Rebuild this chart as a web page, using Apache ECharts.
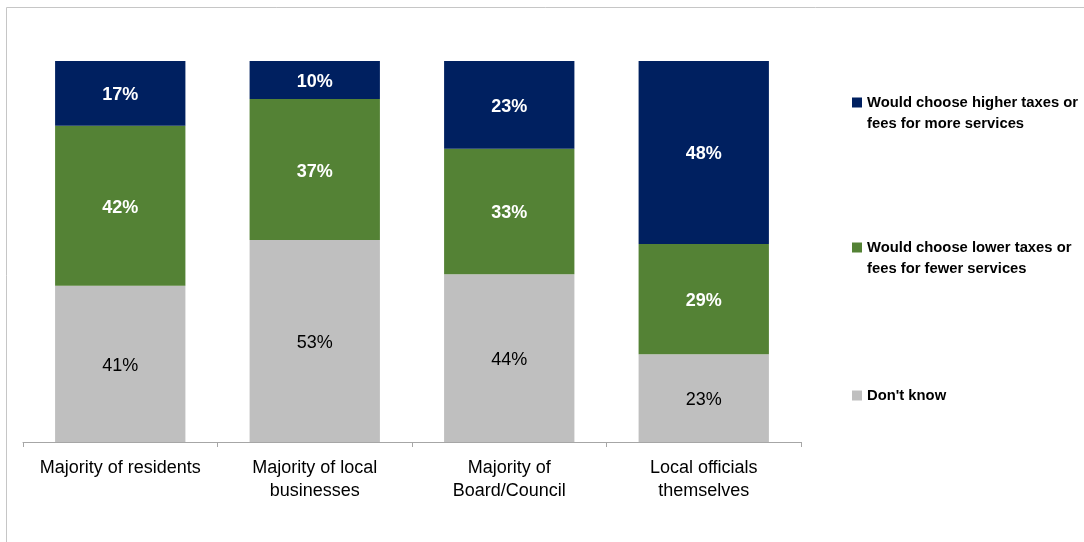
<!DOCTYPE html>
<html>
<head>
<meta charset="utf-8">
<script src="https://cdn.jsdelivr.net/npm/echarts@6/dist/echarts.min.js"></script>
<style>
  html, body { margin: 0; padding: 0; background: #fff; }
  #chart { width: 1084px; height: 542px; }
</style>
</head>
<body>
<div id="chart"></div>
<script>
// Survey groups along the x axis
const categories = [
  'Majority of residents',
  'Majority of local\nbusinesses',
  'Majority of\nBoard/Council',
  'Local officials\nthemselves'
];
// Shares (%) per answer, one value per group
const higherTaxes = [17, 10, 23, 48];
const lowerTaxes = [42, 37, 33, 29];
const dontKnow = [41, 53, 44, 23];

const seriesNames = [
  'Would choose higher taxes or\nfees for more services',
  'Would choose lower taxes or\nfees for fewer services',
  "Don't know"
];

const FONT = '"Liberation Sans", Arial, sans-serif';
const chart = echarts.init(document.getElementById('chart'));

function barSeries(name, data, color, labelColor, bold) {
  return {
    name: name,
    type: 'bar',
    stack: 'total',
    data: data,
    barWidth: '67%',
    itemStyle: { color: color },
    label: {
      show: true,
      position: 'inside',
      offset: [0, 2],
      formatter: '{c}%',
      color: labelColor,
      fontFamily: FONT,
      fontSize: 18,
      fontWeight: bold ? 'bold' : 'normal'
    },
    emphasis: { disabled: true }
  };
}

// One legend block per answer, stacked down the right-hand side.
// A blank leading line keeps the marker level with the first text line.
function legendBlock(name, top, twoLines) {
  return {
    orient: 'vertical',
    left: 847,
    top: top,
    itemWidth: 10,
    itemHeight: 10,
    icon: 'rect',
    selectedMode: false,
    formatter: twoLines ? (n => '\u00a0\n' + n) : (n => n),
    textStyle: {
      fontFamily: FONT,
      fontSize: 14.8,
      fontWeight: 'bold',
      color: '#000',
      lineHeight: 21
    },
    data: [name]
  };
}

chart.setOption({
  animation: false,
  graphic: [{
    type: 'rect',
    shape: { x: 6.5, y: 7.5, width: 1200, height: 700 },
    style: { fill: 'none', stroke: '#c6c6c6', lineWidth: 1 },
    silent: true
  }],
  grid: { left: 23, right: 283, top: 61, bottom: 100, containLabel: false },
  legend: [
    legendBlock(seriesNames[0], 66, true),
    legendBlock(seriesNames[1], 211, true),
    legendBlock(seriesNames[2], 380, false)
  ],
  xAxis: {
    type: 'category',
    data: categories,
    axisLine: { lineStyle: { color: '#a6a6a6', width: 1 } },
    axisTick: { show: true, length: 5, lineStyle: { color: '#a6a6a6' } },
    axisLabel: {
      color: '#000',
      fontFamily: FONT,
      fontSize: 18,
      lineHeight: 23,
      margin: 15,
      interval: 0
    }
  },
  yAxis: {
    type: 'value',
    min: 0,
    max: 100,
    show: false,
    splitLine: { show: false }
  },
  series: [
    barSeries(seriesNames[2], dontKnow, '#bfbfbf', '#000', false),
    barSeries(seriesNames[1], lowerTaxes, '#548235', '#fff', true),
    barSeries(seriesNames[0], higherTaxes, '#002060', '#fff', true)
  ]
});
</script>
</body>
</html>
